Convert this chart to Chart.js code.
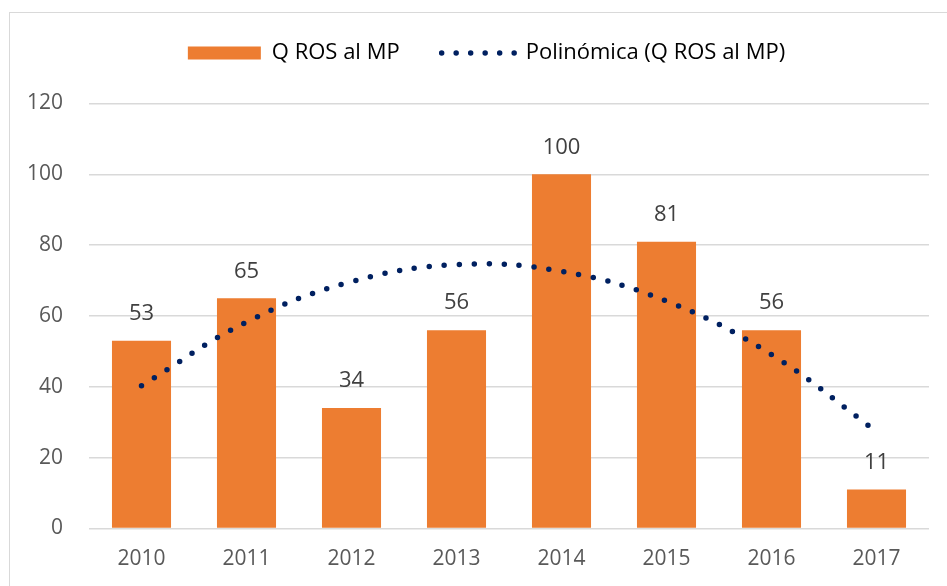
<!DOCTYPE html>
<html>
<head>
<meta charset="utf-8">
<script src="https://cdn.jsdelivr.net/npm/chart.js@4"></script>
<style>
  html, body { margin: 0; padding: 0; background: #fff; overflow: hidden; }
  #frame { position: absolute; left: 9px; top: 12px; width: 1200px; height: 900px; border: 1px solid #d9d9d9; }
  #myChart { position: absolute; left: 0; top: 0; }
</style>
</head>
<body>
<div id="frame"></div>
<canvas id="myChart" width="947" height="586"></canvas>
<script>
const years = ['2010', '2011', '2012', '2013', '2014', '2015', '2016', '2017'];
const qRos = [53, 65, 34, 56, 100, 81, 56, 11];
// trendline values
const trend = [40.3, 58.3, 69.7, 74.5, 72.6, 64.2, 49.1, 27.4];

const orange = '#ED7D31';
const navy = '#002060';
const grey = '#595959';
const fontFamily = '"Open Sans", "Liberation Sans", sans-serif';

Chart.defaults.font.family = fontFamily;
Chart.defaults.font.size = 21;
Chart.defaults.color = grey;

// push the plot area down below the legend, and nudge the legend itself
const legendSpace = {
    id: 'legendSpace',
    beforeInit(chart) {
        if (!chart.legend) return;
        const fit = chart.legend.fit;
        chart.legend.fit = function () {
            fit.bind(chart.legend)();
            this.height = 103.5;
        };
    },
    afterLayout(chart) {
        const lg = chart.legend;
        if (!lg) return;
        lg.left += 22;
        lg.right += 22;
    }
};

// value labels above the bars
const barLabels = {
    id: 'barLabels',
    afterDatasetsDraw(chart) {
        const ctx = chart.ctx;
        const meta = chart.getDatasetMeta(0);
        ctx.save();
        ctx.font = '22px ' + fontFamily;
        ctx.fillStyle = '#404040';
        ctx.textAlign = 'center';
        ctx.textBaseline = 'middle';
        meta.data.forEach((bar, i) => {
            ctx.fillText(qRos[i], bar.x, bar.y - 27);
        });
        ctx.restore();
    }
};

const ctx = document.getElementById('myChart').getContext('2d');
const myChart = new Chart(ctx, {
    type: 'bar',
    data: {
        labels: years,
        datasets: [
            {
                label: 'Q ROS al MP',
                data: qRos,
                backgroundColor: orange,
                categoryPercentage: 1,
                barPercentage: 0.5625,
                order: 2
            },
            {
                type: 'line',
                label: 'Polinómica (Q ROS al MP)',
                data: trend,
                borderColor: navy,
                borderWidth: 5.5,
                borderDash: [0, 15],
                borderCapStyle: 'round',
                tension: 0.4,
                pointRadius: 0,
                fill: false,
                order: 1
            }
        ]
    },
    options: {
        responsive: false,
        animation: false,
        layout: {
            padding: { top: 0, left: 0, right: 18, bottom: 5 }
        },
        plugins: {
            tooltip: { enabled: false },
            legend: {
                position: 'top',
                labels: {
                    usePointStyle: true,
                    pointStyleWidth: 73,
                    boxHeight: 13,
                    padding: 42,
                    color: grey,
                    font: { size: 22 },
                    generateLabels: () => [
                        {
                            text: 'Q ROS al MP',
                            pointStyle: 'rect',
                            fillStyle: orange,
                            strokeStyle: orange,
                            lineWidth: 0,
                            datasetIndex: 0
                        },
                        {
                            text: 'Polinómica (Q ROS al MP)',
                            pointStyle: 'line',
                            fillStyle: navy,
                            strokeStyle: navy,
                            lineWidth: 5.5,
                            lineCap: 'round',
                            lineDash: [0, 14.5],
                            datasetIndex: 1
                        }
                    ]
                }
            }
        },
        scales: {
            x: {
                grid: { display: false },
                border: { display: false },
                ticks: { color: grey, padding: 10 },
                afterFit: (axis) => { axis.height = 52.5; }
            },
            y: {
                min: 0,
                max: 120,
                ticks: { stepSize: 20, color: grey, padding: 26 },
                grid: { color: '#d9d9d9', lineWidth: 1.5, drawTicks: false },
                border: { display: false },
                afterFit: (axis) => { axis.width = 89; }
            }
        }
    },
    plugins: [legendSpace, barLabels]
});
</script>
</body>
</html>
